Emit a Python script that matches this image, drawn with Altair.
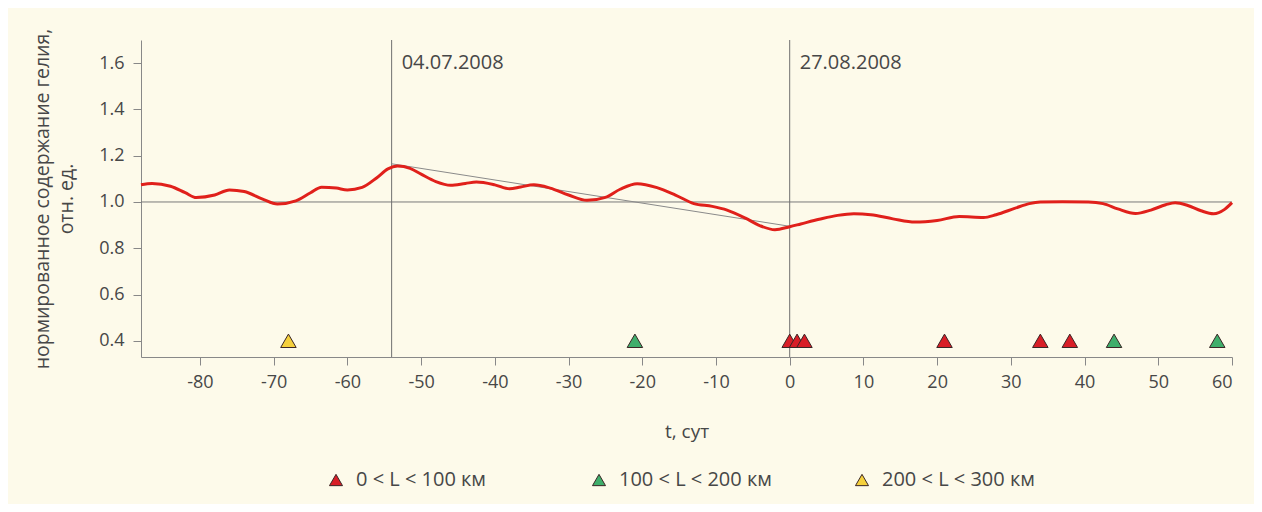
import altair as alt
import pandas as pd

# Normalised helium content curve
curve_t = [-88, -86.5, -84, -82, -80.5, -78, -76, -74, -71.5, -69.5, -67, -65, -63.5, -61.5, -60,
           -58, -56, -54.5, -53.2, -51.5, -50, -48, -46, -44, -42.5, -40, -38, -36.5, -34.7,
           -32.5, -30, -27.5, -25, -23, -20.7, -18, -15.5, -13, -10.5, -8.5, -6, -4, -2, 0,
           1.5, 4, 6.5, 8.7, 11, 14, 17, 20, 23, 26.3, 28, 30.5, 32.5, 34, 37, 40.5, 42.5,
           44.5, 46.9, 49, 51, 52.3, 54, 55.8, 57.5, 59, 60]
curve_v = [1.074, 1.080, 1.068, 1.040, 1.019, 1.030, 1.052, 1.045, 1.012, 0.991, 1.005, 1.040,
           1.064, 1.060, 1.052, 1.063, 1.105, 1.143, 1.155, 1.145, 1.120, 1.088, 1.072, 1.080,
           1.086, 1.074, 1.057, 1.065, 1.074, 1.060, 1.030, 1.007, 1.020, 1.055, 1.079, 1.062,
           1.030, 0.993, 0.981, 0.965, 0.930, 0.897, 0.880, 0.893, 0.905, 0.925, 0.942, 0.949,
           0.945, 0.927, 0.913, 0.920, 0.937, 0.933, 0.945, 0.972, 0.993, 1.000, 1.001, 1.000,
           0.993, 0.970, 0.950, 0.965, 0.988, 0.997, 0.985, 0.962, 0.949, 0.968, 0.997]

# Trend line between the two dates
trend_t = [-54, 0]
trend_v = [1.165, 0.895]

# Earthquakes (events)
event_t = [-68, -21, 0, 1, 2, 21, 34, 38, 44, 58]
event_v = [0.4] * 10
event_cls = ["200 < L < 300 км", "100 < L < 200 км", "0 < L < 100 км", "0 < L < 100 км",
             "0 < L < 100 км", "0 < L < 100 км", "0 < L < 100 км", "0 < L < 100 км",
             "100 < L < 200 км", "100 < L < 200 км"]
cls_domain = ["0 < L < 100 км", "100 < L < 200 км", "200 < L < 300 км"]
cls_colors = ["#d81e27", "#3fae6b", "#f5d03c"]

# Date markers
date_t = [-54, 0]
date_lbl = ["04.07.2008", "27.08.2008"]
date_y = [1.6, 1.6]

x_ticks = list(range(-80, 61, 10))
y_ticks = [0.4, 0.6, 0.8, 1.0, 1.2, 1.4, 1.6]

FONT = "Open Sans"
TXT = "#474747"

curve_df = pd.DataFrame({"t": curve_t, "v": curve_v})
trend_df = pd.DataFrame({"t": trend_t, "v": trend_v})
event_df = pd.DataFrame({"t": event_t, "v": event_v, "cls": event_cls})
date_df = pd.DataFrame({"t": date_t, "lbl": date_lbl, "y": date_y})
ref_df = pd.DataFrame({"v": [1.0]})

xscale = alt.Scale(domain=[-88, 60], nice=False, zero=False)
yscale = alt.Scale(domain=[0.33, 1.7], nice=False, zero=False)

xaxis = alt.Axis(values=x_ticks, title="t, сут", grid=False, tickSize=8, labelPadding=8,
                 labelExpr="(datum.value < 0 ? '-' : '') + abs(datum.value)",
                 titlePadding=31, labelFontSize=18, titleFontSize=19, labelColor=TXT,
                 titleColor=TXT, titleFontWeight="normal", domainColor="#888", tickColor="#888",
                 labelFont=FONT, titleFont=FONT)
yaxis = alt.Axis(values=y_ticks, format=".1f",
                 title=["нормированное содержание гелия,", "отн. ед."], grid=False,
                 tickSize=8, labelPadding=9, titlePadding=22, labelFontSize=18,
                 titleFontSize=19.5, titleLineHeight=24, labelColor=TXT, titleColor=TXT,
                 titleFontWeight="normal", domainColor="#888", tickColor="#888",
                 labelFont=FONT, titleFont=FONT)

ref = alt.Chart(ref_df).mark_rule(color="#7a7a7a", strokeWidth=1).encode(
    y=alt.Y("v:Q", scale=yscale, axis=yaxis)
)

vlines = alt.Chart(date_df).mark_rule(color="#6f6f6f", strokeWidth=1).encode(
    x=alt.X("t:Q", scale=xscale, axis=xaxis)
)

date_text = alt.Chart(date_df).mark_text(align="left", baseline="middle", dx=10,
                                         fontSize=20, font=FONT, color=TXT).encode(
    x=alt.X("t:Q", scale=xscale),
    y=alt.Y("y:Q", scale=yscale),
    text="lbl:N",
)

trend = alt.Chart(trend_df).mark_line(color="#8a8a8a", strokeWidth=1).encode(
    x=alt.X("t:Q", scale=xscale),
    y=alt.Y("v:Q", scale=yscale),
)

curve = alt.Chart(curve_df).mark_line(color="#e0201b", strokeWidth=3,
                                      interpolate="monotone").encode(
    x=alt.X("t:Q", scale=xscale),
    y=alt.Y("v:Q", scale=yscale),
)

events = alt.Chart(event_df).mark_point(shape="triangle-up", filled=True, size=240,
                                        stroke="#3a2626", strokeWidth=1, opacity=1).encode(
    x=alt.X("t:Q", scale=xscale),
    y=alt.Y("v:Q", scale=yscale),
    fill=alt.Fill("cls:N", scale=alt.Scale(domain=cls_domain, range=cls_colors),
                  legend=alt.Legend(title=None, orient="none", direction="horizontal",
                                    legendX=185, legendY=430, symbolType="triangle-up",
                                    symbolSize=170, symbolStrokeColor="#3a2626",
                                    symbolStrokeWidth=1, symbolOpacity=1,
                                    labelFontSize=20, labelFont=FONT, labelColor=TXT,
                                    labelOffset=10, gridAlign="all", columnPadding=80,
                                    labelLimit=400)),
)

chart = alt.layer(ref, vlines, trend, curve, events, date_text).properties(
    width=1091, height=317,
    autosize=alt.AutoSizeParams(type="none"),
    padding={"left": 133, "top": 32, "right": 22, "bottom": 147},
    background="#fdfaea",
).configure_view(stroke=None)

chart.save("out.html", embed_options={"renderer": "svg", "actions": False})
